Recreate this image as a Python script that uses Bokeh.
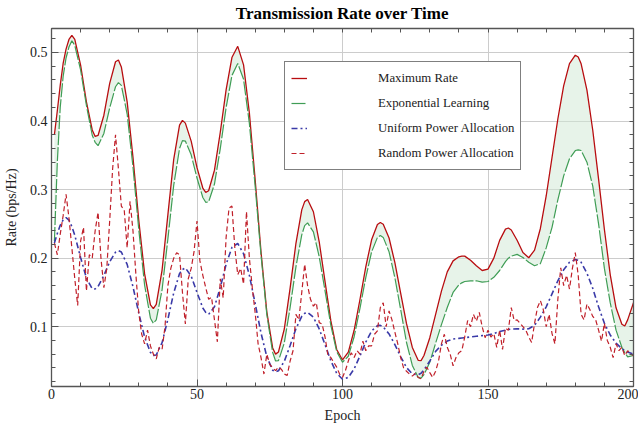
from bokeh.plotting import figure
from bokeh.models import (LinearAxis, SingleIntervalTicker, FixedTicker, Legend,
                          LegendItem, ColumnDataSource, Range1d)
from bokeh.embed import file_html
from bokeh.resources import INLINE

# ---------------- data ----------------
epoch = [1, 2, 3, 4, 5, 6, 7, 8,
         10, 12, 14, 15, 16, 18, 20, 22, 23, 24,
         26, 28, 30, 32, 34, 35, 36, 38, 40, 42,
         44, 45, 46, 48, 50, 52, 53, 54, 56, 58,
         60, 62, 64, 66, 68, 70, 72, 74, 76, 77,
         78, 80, 82, 84, 86, 87, 88, 90, 92, 94,
         96, 98, 100, 102, 104, 106, 108, 110, 112, 113,
         114, 116, 118, 120, 122, 124, 126, 127, 128, 130,
         132, 134, 136, 138, 140, 141, 142, 144, 146, 148,
         150, 152, 154, 156, 157, 158, 160, 162, 164, 166,
         168, 170, 172, 174, 176, 178, 180, 181, 182, 184,
         186, 188, 190, 192, 194, 196, 197, 198, 200]

max_rate = [0.380, 0.415, 0.452, 0.484, 0.505, 0.519, 0.525, 0.519,
            0.4815, 0.428, 0.387, 0.3775, 0.379, 0.4085, 0.455, 0.4865, 0.489, 0.479,
            0.428, 0.347, 0.255, 0.177, 0.132, 0.1265, 0.1327, 0.1827, 0.2635, 0.344,
            0.394, 0.401, 0.397, 0.3707, 0.332, 0.3023, 0.296, 0.2983, 0.3283, 0.3837,
            0.4454, 0.4926, 0.509, 0.482, 0.4118, 0.3137, 0.209, 0.1213, 0.069, 0.060,
            0.0632, 0.0967, 0.1564, 0.2217, 0.2704, 0.2825, 0.2855, 0.2677, 0.2239, 0.1658,
            0.1085, 0.0668, 0.0515, 0.0629, 0.0948, 0.1397, 0.1873, 0.2268, 0.249, 0.252,
            0.2494, 0.2294, 0.1934, 0.1488, 0.1045, 0.0698, 0.0510, 0.0505, 0.058, 0.084,
            0.118, 0.152, 0.180, 0.196, 0.202, 0.203, 0.203, 0.197, 0.189, 0.182,
            0.184, 0.200, 0.226, 0.2424, 0.244, 0.2411, 0.2261, 0.2083, 0.2006, 0.2117,
            0.2433, 0.2907, 0.3468, 0.403, 0.4512, 0.4837, 0.496, 0.4935, 0.4835, 0.4452,
            0.3866, 0.3152, 0.2418, 0.176, 0.1276, 0.1036, 0.101, 0.110, 0.135]

exp_learning = [0.225, 0.340, 0.420, 0.465, 0.492, 0.508, 0.517, 0.5105,
                0.4745, 0.4227, 0.3793, 0.369, 0.364, 0.382, 0.4193, 0.450, 0.456, 0.4521,
                0.4102, 0.333, 0.2414, 0.1605, 0.1124, 0.105, 0.110, 0.1539, 0.2283, 0.3064,
                0.360, 0.3715, 0.3708, 0.3508, 0.3169, 0.2885, 0.2815, 0.2821, 0.3081, 0.3599,
                0.4196, 0.4664, 0.484, 0.4609, 0.3965, 0.3044, 0.2044, 0.1176, 0.0625, 0.050,
                0.0505, 0.0764, 0.128, 0.1874, 0.234, 0.2475, 0.2515, 0.2383, 0.2021, 0.1524,
                0.102, 0.0638, 0.0482, 0.0569, 0.0854, 0.1269, 0.1717, 0.2091, 0.2302, 0.233,
                0.2303, 0.2092, 0.1715, 0.1249, 0.077, 0.0435, 0.0260, 0.025, 0.030, 0.048,
                0.076, 0.103, 0.128, 0.150, 0.161, 0.164, 0.166, 0.167, 0.167, 0.165,
                0.166, 0.172, 0.182, 0.195, 0.200, 0.203, 0.2055, 0.201, 0.194, 0.189,
                0.192, 0.215, 0.245, 0.285, 0.320, 0.345, 0.357, 0.358, 0.357, 0.340,
                0.305, 0.250, 0.185, 0.135, 0.095, 0.070, 0.062, 0.056, 0.058]

uniform = [0.222, 0.236, 0.248, 0.256, 0.259, 0.2555, 0.246, 0.2334,
           0.2009, 0.1709, 0.1554, 0.155, 0.1588, 0.1747, 0.1948, 0.2087, 0.211, 0.209,
           0.1909, 0.1584, 0.1198, 0.0849, 0.0626, 0.058, 0.0588, 0.0768, 0.1111, 0.1494,
           0.1775, 0.1835, 0.1858, 0.1739, 0.1501, 0.1273, 0.121, 0.118, 0.129, 0.1572,
           0.1909, 0.2157, 0.2214, 0.2065, 0.175, 0.1335, 0.0908, 0.056, 0.0365, 0.034,
           0.0358, 0.0495, 0.0725, 0.097, 0.1152, 0.1195, 0.121, 0.1139, 0.0968, 0.0738,
           0.0503, 0.0321, 0.0234, 0.026, 0.0385, 0.0573, 0.0776, 0.0938, 0.1017, 0.102,
           0.0996, 0.0895, 0.0739, 0.0561, 0.0405, 0.031, 0.030, 0.032, 0.037, 0.050,
           0.064, 0.073, 0.079, 0.082, 0.083, 0.0835, 0.084, 0.085, 0.086, 0.087,
           0.088, 0.090, 0.093, 0.095, 0.096, 0.0965, 0.097, 0.0965, 0.097, 0.102,
           0.114, 0.129, 0.148, 0.167, 0.183, 0.194, 0.198, 0.197, 0.194, 0.178,
           0.156, 0.129, 0.105, 0.088, 0.076, 0.068, 0.065, 0.063, 0.060]

rand_epoch = list(range(1, 201))
random_alloc = [
    0.222, 0.205, 0.235, 0.262, 0.293, 0.259, 0.215, 0.170, 0.131, 0.225,
    0.245, 0.152, 0.205, 0.200, 0.240, 0.267, 0.200, 0.157, 0.185, 0.255,
    0.330, 0.380, 0.330, 0.276, 0.270, 0.215, 0.283, 0.240, 0.176, 0.120,
    0.089, 0.075, 0.095, 0.072, 0.060, 0.053, 0.070, 0.067, 0.100, 0.160,
    0.185, 0.200, 0.208, 0.205, 0.150, 0.104, 0.170, 0.185, 0.210, 0.254,
    0.196, 0.175, 0.157, 0.140, 0.143, 0.110, 0.078, 0.170, 0.142, 0.230,
    0.273, 0.276, 0.215, 0.176, 0.185, 0.162, 0.268, 0.200, 0.157, 0.120,
    0.075, 0.055, 0.031, 0.060, 0.045, 0.040, 0.036, 0.041, 0.038, 0.031,
    0.029, 0.050, 0.065, 0.118, 0.110, 0.150, 0.191, 0.160, 0.140, 0.130,
    0.135, 0.106, 0.104, 0.085, 0.058, 0.055, 0.048, 0.041, 0.031, 0.026,
    0.036, 0.050, 0.062, 0.055, 0.065, 0.060, 0.079, 0.065, 0.072, 0.072,
    0.089, 0.094, 0.128, 0.135, 0.100, 0.123, 0.110, 0.092, 0.075, 0.055,
    0.040, 0.035, 0.031, 0.028, 0.032, 0.026, 0.024, 0.035, 0.041, 0.033,
    0.026, 0.035, 0.050, 0.075, 0.089, 0.070, 0.060, 0.043, 0.055, 0.062,
    0.065, 0.085, 0.109, 0.100, 0.118, 0.108, 0.121, 0.100, 0.084, 0.095,
    0.085, 0.090, 0.070, 0.095, 0.067, 0.098, 0.095, 0.128, 0.109, 0.110,
    0.105, 0.100, 0.095, 0.085, 0.077, 0.105, 0.128, 0.138, 0.125, 0.100,
    0.118, 0.090, 0.075, 0.140, 0.186, 0.160, 0.175, 0.155, 0.185, 0.208,
    0.175, 0.118, 0.110, 0.133, 0.125, 0.115, 0.110, 0.095, 0.079, 0.105,
    0.080, 0.070, 0.055, 0.075, 0.065, 0.070, 0.058, 0.065, 0.060, 0.058]

x_major = 50
y_major = 0.1
x_minor_ticks = [10 * i for i in range(0, 21)]
y_minor_ticks = [round(0.02 * i, 2) for i in range(1, 27)]

title_text = "Transmission Rate over Time"
labels = ["Maximum Rate", "Exponential Learning",
          "Uniform Power Allocation", "Random Power Allocation"]

# ---------------- styling ----------------
SERIF = "Liberation Serif"
RED = "#b80d10"
GREEN = "#3f9d55"
BLUE = "#3a3aa8"
RED2 = "#c0202a"
AXIS = "#555555"

p = figure(width=638, height=428,
           x_range=Range1d(0, 200), y_range=Range1d(0.0128, 0.535),
           output_backend="svg", toolbar_location=None,
           min_border_left=51, min_border_right=5,
           min_border_top=27, min_border_bottom=42,
           x_axis_location=None, y_axis_location=None)

p.background_fill_color = "white"
p.border_fill_color = "white"
p.outline_line_color = AXIS
p.outline_line_width = 1


def style_axis(ax):
    ax.axis_line_color = AXIS
    ax.axis_line_width = 1.3
    ax.major_tick_line_color = AXIS
    ax.minor_tick_line_color = AXIS
    ax.major_tick_in = 7
    ax.major_tick_out = 0
    ax.minor_tick_in = 4
    ax.minor_tick_out = 0
    return ax


def label_axis(ax, label, tick_standoff, label_standoff):
    ax.major_label_text_font = SERIF
    ax.major_label_text_font_size = "14px"
    ax.major_label_text_color = "#222222"
    ax.major_label_standoff = tick_standoff
    ax.axis_label = label
    ax.axis_label_text_font = SERIF
    ax.axis_label_text_font_size = "14px"
    ax.axis_label_text_font_style = "normal"
    ax.axis_label_text_color = "#222222"
    ax.axis_label_standoff = label_standoff
    return ax


xb = style_axis(LinearAxis(ticker=SingleIntervalTicker(interval=x_major, num_minor_ticks=5)))
label_axis(xb, "Epoch", 2, 6)
yl = style_axis(LinearAxis(ticker=SingleIntervalTicker(interval=y_major, num_minor_ticks=5)))
label_axis(yl, "Rate (bps/Hz)", 4, 8)
xt = style_axis(LinearAxis(ticker=FixedTicker(ticks=[], minor_ticks=x_minor_ticks)))
yr = style_axis(LinearAxis(ticker=FixedTicker(ticks=[], minor_ticks=y_minor_ticks)))

# chart title carried by the top frame axis
xt.axis_label = title_text
xt.axis_label_text_font = SERIF
xt.axis_label_text_font_size = "17px"
xt.axis_label_text_font_style = "bold"
xt.axis_label_text_color = "black"
xt.axis_label_standoff = 6

p.add_layout(xb, "below")
p.add_layout(yl, "left")
p.add_layout(xt, "above")
p.add_layout(yr, "right")

p.xgrid.ticker = SingleIntervalTicker(interval=x_major)
p.ygrid.ticker = SingleIntervalTicker(interval=y_major)
p.xgrid.grid_line_color = "#cccccc"
p.ygrid.grid_line_color = "#cccccc"
p.xgrid.grid_line_width = 1
p.ygrid.grid_line_width = 1

src = ColumnDataSource(dict(x=epoch, mx=max_rate, ex=exp_learning, un=uniform))
rsrc = ColumnDataSource(dict(x=rand_epoch, y=random_alloc))

p.varea(x="x", y1="ex", y2="mx", source=src, fill_color="#cfe8d3", fill_alpha=0.5)

r_max = p.line("x", "mx", source=src, line_color=RED, line_width=1.3)
r_exp = p.line("x", "ex", source=src, line_color=GREEN, line_width=1.2,
               line_dash="14 2")
r_uni = p.line("x", "un", source=src, line_color=BLUE, line_width=1.6,
               line_dash="6 3 2 3")
r_rnd = p.line("x", "y", source=rsrc, line_color=RED2, line_width=1.2,
               line_dash="5 3")

legend = Legend(items=[LegendItem(label=labels[0], renderers=[r_max]),
                       LegendItem(label=labels[1], renderers=[r_exp]),
                       LegendItem(label=labels[2], renderers=[r_uni]),
                       LegendItem(label=labels[3], renderers=[r_rnd])],
                location=(233, 216))
legend.label_text_font = SERIF
legend.label_text_font_size = "12.8px"
legend.label_text_color = "#222222"
legend.glyph_width = 16
legend.glyph_height = 20
legend.label_height = 20
legend.spacing = 5
legend.padding = 6
legend.label_standoff = 71
legend.border_line_color = "black"
legend.border_line_width = 1
legend.background_fill_color = "white"
legend.background_fill_alpha = 1
p.add_layout(legend, "center")

open("out.html", "w").write(file_html(p, INLINE))
